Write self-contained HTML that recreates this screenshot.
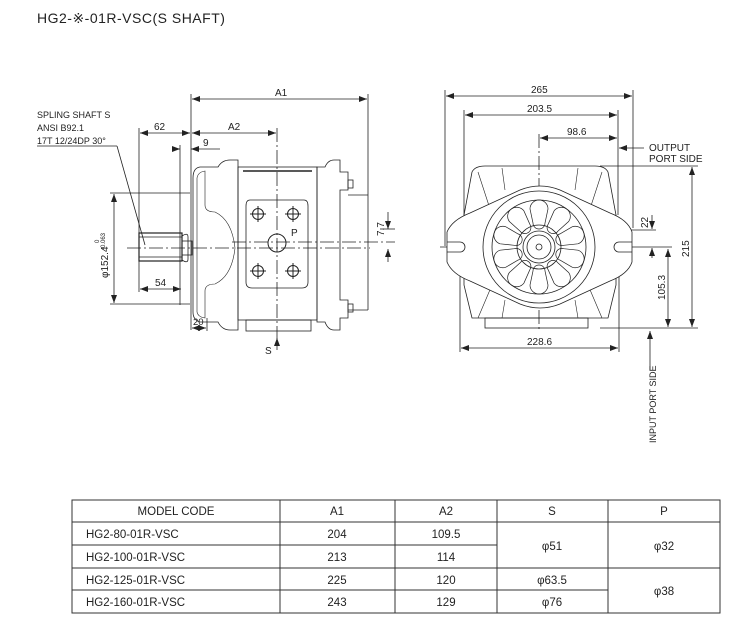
<!DOCTYPE html>
<html><head><meta charset="utf-8"><style>
body{margin:0;background:#fff;}
svg{display:block;font-family:"Liberation Sans",sans-serif;}
</style></head><body>
<svg width="729" height="624" viewBox="0 0 729 624" xmlns="http://www.w3.org/2000/svg">
<defs>
<marker id="a" markerWidth="8" markerHeight="6" refX="8" refY="3" orient="auto-start-reverse" markerUnits="userSpaceOnUse"><path d="M0,0 L8,3 L0,6 z" fill="#222"/></marker>
</defs>
<text x="37" y="23" font-size="14" fill="#222" letter-spacing="0.5">HG2-※-01R-VSC(S SHAFT)</text>

<g stroke="#222" fill="none" stroke-width="0.8">
<line x1="191" y1="94" x2="191" y2="330"/>
<line x1="368" y1="94" x2="368" y2="195"/>
<line x1="348" y1="195" x2="368" y2="195"/>
<line x1="348" y1="310" x2="368" y2="310"/>
<line x1="368" y1="195" x2="368" y2="310"/>
<line x1="192" y1="99" x2="367" y2="99" marker-start="url(#a)" marker-end="url(#a)"/>
<line x1="139" y1="128" x2="139" y2="292"/>
<line x1="140" y1="133" x2="190" y2="133" marker-start="url(#a)" marker-end="url(#a)"/>
<line x1="192" y1="133" x2="276" y2="133" marker-start="url(#a)" marker-end="url(#a)"/>
<line x1="277" y1="128" x2="277" y2="345" stroke-dasharray="14,3,2,3"/>
<line x1="180" y1="145" x2="180" y2="305"/>
<line x1="172" y1="149" x2="180" y2="149" marker-end="url(#a)"/>
<line x1="191" y1="149" x2="220" y2="149" marker-start="url(#a)"/>
<line x1="110" y1="193" x2="190" y2="193"/>
<line x1="110" y1="304" x2="190" y2="304"/>
<line x1="114" y1="194" x2="114" y2="303" marker-start="url(#a)" marker-end="url(#a)"/>
<line x1="140" y1="289" x2="181" y2="289" marker-start="url(#a)" marker-end="url(#a)"/>
<line x1="207" y1="318" x2="207" y2="331"/>
<line x1="192" y1="328" x2="206" y2="328" marker-start="url(#a)" marker-end="url(#a)"/>
<line x1="380" y1="229" x2="395" y2="229"/>
<line x1="388" y1="212" x2="388" y2="229" marker-end="url(#a)"/>
<line x1="388" y1="262" x2="388" y2="249" marker-end="url(#a)"/>
<line x1="277" y1="350" x2="277" y2="338" marker-end="url(#a)"/>
<line x1="37" y1="146" x2="117" y2="146"/>
<line x1="117" y1="146" x2="145" y2="245"/>
<line x1="127" y1="248" x2="370" y2="248" stroke-dasharray="14,3,2,3"/>
<line x1="232" y1="242" x2="395" y2="242" stroke-dasharray="14,3,2,3"/>
<path d="M193,178 Q193,168 200,167 L218,167 Q222,160 230,160 L238,160 L238,330 L230,330 Q222,330 218,322 L200,322 Q193,320 193,312 Z"/>
<path d="M197,178 Q198,172 205,171 L205,205 Q205,212 215,212 Q232,220 235,248 Q232,276 215,284 Q205,284 205,291 L205,318 Q198,317 197,312 Z" stroke-width="0.6"/>
<rect x="238" y="167" width="79" height="153"/>
<line x1="243" y1="171" x2="312" y2="171" stroke-width="1.5"/>
<rect x="246" y="320" width="65" height="11"/>
<path d="M317,167 L325,167 Q328,160 334,160 L340,160 L340,172 L348,172 L348,190 L340,190 L340,300 L348,300 L348,318 L340,318 L340,330 L334,330 Q328,330 325,322 L317,322 Z"/>
<rect x="348" y="180" width="5" height="8"/><rect x="348" y="304" width="5" height="8"/>
<path d="M250,200 L304,200 Q308,200 308,206 L308,282 Q308,288 302,288 L252,288 Q246,288 246,282 L246,206 Q246,200 250,200 Z"/>
<rect x="139" y="233" width="43" height="28" stroke-width="1.2"/>
<line x1="139" y1="237" x2="182" y2="237"/><line x1="139" y1="257" x2="182" y2="257"/>
<path d="M182,236 Q188,232 188,237 L188,259 Q188,264 182,260"/>
<rect x="182" y="241" width="10" height="14"/>
</g>
<g stroke="#222" fill="none" stroke-width="1">
<circle cx="258" cy="214" r="5.5"/><circle cx="293" cy="214" r="5.5"/>
<circle cx="258" cy="271" r="5.5"/><circle cx="293" cy="271" r="5.5"/>
<path d="M250,214h16M258,206v16M285,214h16M293,206v16M250,271h16M258,263v16M285,271h16M293,263v16"/>
<circle cx="277" cy="243" r="9"/>
</g>
<g font-size="10" fill="#222">
<text x="275" y="96">A1</text>
<text x="154" y="130">62</text>
<text x="228" y="130">A2</text>
<text x="203" y="146">9</text>
<text x="291" y="236">P</text>
<text x="155" y="286">54</text>
<text x="193" y="325" font-size="9.5">20</text>
<text x="265" y="354">S</text>
<text x="37" y="118" font-size="9">SPLING SHAFT S</text>
<text x="37" y="131" font-size="9">ANSI B92.1</text>
<text x="37" y="144" font-size="9">17T 12/24DP 30°</text>
<text transform="translate(108,278) rotate(-90)" font-size="10">φ152.4</text>
<text transform="translate(99,243) rotate(-90)" font-size="6">0</text>
<text transform="translate(105,250) rotate(-90)" font-size="6">-0.063</text>
<text transform="translate(384,236) rotate(-90)">7.7</text>
</g>

<g stroke="#222" fill="none" stroke-width="0.8">
<line x1="445" y1="90" x2="445" y2="246"/>
<line x1="633" y1="90" x2="633" y2="228"/>
<line x1="446" y1="96" x2="632" y2="96" marker-start="url(#a)" marker-end="url(#a)"/>
<line x1="464" y1="110" x2="464" y2="215"/>
<line x1="618" y1="110" x2="618" y2="215"/>
<line x1="465" y1="115" x2="617" y2="115" marker-start="url(#a)" marker-end="url(#a)"/>
<line x1="539" y1="134" x2="539" y2="330" stroke-dasharray="14,3,2,3"/>
<line x1="540" y1="138" x2="617" y2="138" marker-start="url(#a)" marker-end="url(#a)"/>
<line x1="644" y1="148" x2="619" y2="148" marker-end="url(#a)"/>
<line x1="600" y1="166" x2="698" y2="166"/>
<line x1="600" y1="328" x2="698" y2="328"/>
<line x1="692" y1="167" x2="692" y2="327" marker-start="url(#a)" marker-end="url(#a)"/>
<line x1="668" y1="249" x2="668" y2="327" marker-start="url(#a)" marker-end="url(#a)"/>
<line x1="620" y1="247" x2="672" y2="247"/>
<line x1="620" y1="230" x2="656" y2="230"/>
<line x1="652" y1="215" x2="652" y2="229" marker-end="url(#a)"/>
<line x1="652" y1="258" x2="652" y2="248" marker-end="url(#a)"/>
<line x1="460" y1="240" x2="460" y2="352"/>
<line x1="619" y1="240" x2="619" y2="352"/>
<line x1="461" y1="348" x2="618" y2="348" marker-start="url(#a)" marker-end="url(#a)"/>
<line x1="650" y1="370" x2="650" y2="331" marker-end="url(#a)"/>
<line x1="440" y1="247" x2="625" y2="247" stroke-dasharray="14,3,2,3"/>
<path d="M472,172 Q475,166 485,166 L595,166 Q605,166 608,172 L616,215 L616,285 L608,318 L472,318 L464,285 L464,215 Z"/>
<path d="M478,172 L492,215 M602,172 L588,215 M478,318 L492,285 M602,318 L588,285 M502,168 L505,190 M578,168 L575,190 M502,318 L505,300 M578,318 L575,300" stroke-width="0.6"/>
<rect x="485" y="318" width="103" height="10"/>
<path d="M470,213 L520,190 Q540,182 560,190 L610,213 Q628,220 632,232 L632,262 Q628,274 610,281 L560,304 Q540,312 520,304 L470,281 Q452,274 447,262 L447,232 Q452,220 470,213 Z" fill="#fff"/>
<path d="M447,242 L460,242 A5,5 0 0 1 460,252 L447,252"/>
<path d="M632,242 L619,242 A5,5 0 0 0 619,252 L632,252"/>
<circle cx="539" cy="247" r="56" fill="#fff"/>
<circle cx="539" cy="247" r="47"/>
<circle cx="539" cy="247" r="22"/>
<circle cx="539" cy="247" r="16"/>
<circle cx="539" cy="247" r="12"/>
<circle cx="539" cy="247" r="3"/>
</g>
<g stroke="#222" fill="none" stroke-width="0.7">
<path d="M530,209 a9,9 0 0 1 18,0 l-3,14 a6,6 0 0 1 -12,0 z"/>
<path d="M530,209 a9,9 0 0 1 18,0 l-3,14 a6,6 0 0 1 -12,0 z" transform="rotate(36 539 247)"/>
<path d="M530,209 a9,9 0 0 1 18,0 l-3,14 a6,6 0 0 1 -12,0 z" transform="rotate(72 539 247)"/>
<path d="M530,209 a9,9 0 0 1 18,0 l-3,14 a6,6 0 0 1 -12,0 z" transform="rotate(108 539 247)"/>
<path d="M530,209 a9,9 0 0 1 18,0 l-3,14 a6,6 0 0 1 -12,0 z" transform="rotate(144 539 247)"/>
<path d="M530,209 a9,9 0 0 1 18,0 l-3,14 a6,6 0 0 1 -12,0 z" transform="rotate(180 539 247)"/>
<path d="M530,209 a9,9 0 0 1 18,0 l-3,14 a6,6 0 0 1 -12,0 z" transform="rotate(216 539 247)"/>
<path d="M530,209 a9,9 0 0 1 18,0 l-3,14 a6,6 0 0 1 -12,0 z" transform="rotate(252 539 247)"/>
<path d="M530,209 a9,9 0 0 1 18,0 l-3,14 a6,6 0 0 1 -12,0 z" transform="rotate(288 539 247)"/>
<path d="M530,209 a9,9 0 0 1 18,0 l-3,14 a6,6 0 0 1 -12,0 z" transform="rotate(324 539 247)"/>
</g>
<g font-size="10" fill="#222">
<text x="531" y="93">265</text>
<text x="527" y="112">203.5</text>
<text x="567" y="135">98.6</text>
<text x="649" y="151">OUTPUT</text>
<text x="649" y="162">PORT SIDE</text>
<text transform="translate(689,257) rotate(-90)">215</text>
<text transform="translate(665,300) rotate(-90)">105.3</text>
<text transform="translate(648,228) rotate(-90)">22</text>
<text x="527" y="345">228.6</text>
<text transform="translate(656,443) rotate(-90)" font-size="9">INPUT PORT SIDE</text>
</g>

<g stroke="#333" stroke-width="1" fill="none">
<rect x="72" y="500" width="648" height="113"/>
<line x1="72" y1="522" x2="720" y2="522"/>
<line x1="72" y1="545" x2="497" y2="545"/>
<line x1="72" y1="568" x2="720" y2="568"/>
<line x1="72" y1="590" x2="608" y2="590"/>
<line x1="280" y1="500" x2="280" y2="613"/>
<line x1="395" y1="500" x2="395" y2="613"/>
<line x1="497" y1="500" x2="497" y2="613"/>
<line x1="608" y1="500" x2="608" y2="613"/>
</g>
<g font-size="11.5" fill="#222" text-anchor="middle">
<text x="176" y="515">MODEL CODE</text><text x="337" y="515">A1</text><text x="446" y="515">A2</text><text x="552" y="515">S</text><text x="664" y="515">P</text>
<text x="337" y="538">204</text><text x="446" y="538">109.5</text>
<text x="337" y="561">213</text><text x="446" y="561">114</text>
<text x="552" y="550">φ51</text><text x="664" y="550">φ32</text>
<text x="337" y="584">225</text><text x="446" y="584">120</text><text x="552" y="584">φ63.5</text>
<text x="337" y="606">243</text><text x="446" y="606">129</text><text x="552" y="606">φ76</text>
<text x="664" y="595">φ38</text>
</g>
<g font-size="11.5" fill="#222">
<text x="86" y="538">HG2-80-01R-VSC</text>
<text x="86" y="561">HG2-100-01R-VSC</text>
<text x="86" y="584">HG2-125-01R-VSC</text>
<text x="86" y="606">HG2-160-01R-VSC</text>
</g>
</svg>
</body></html>
